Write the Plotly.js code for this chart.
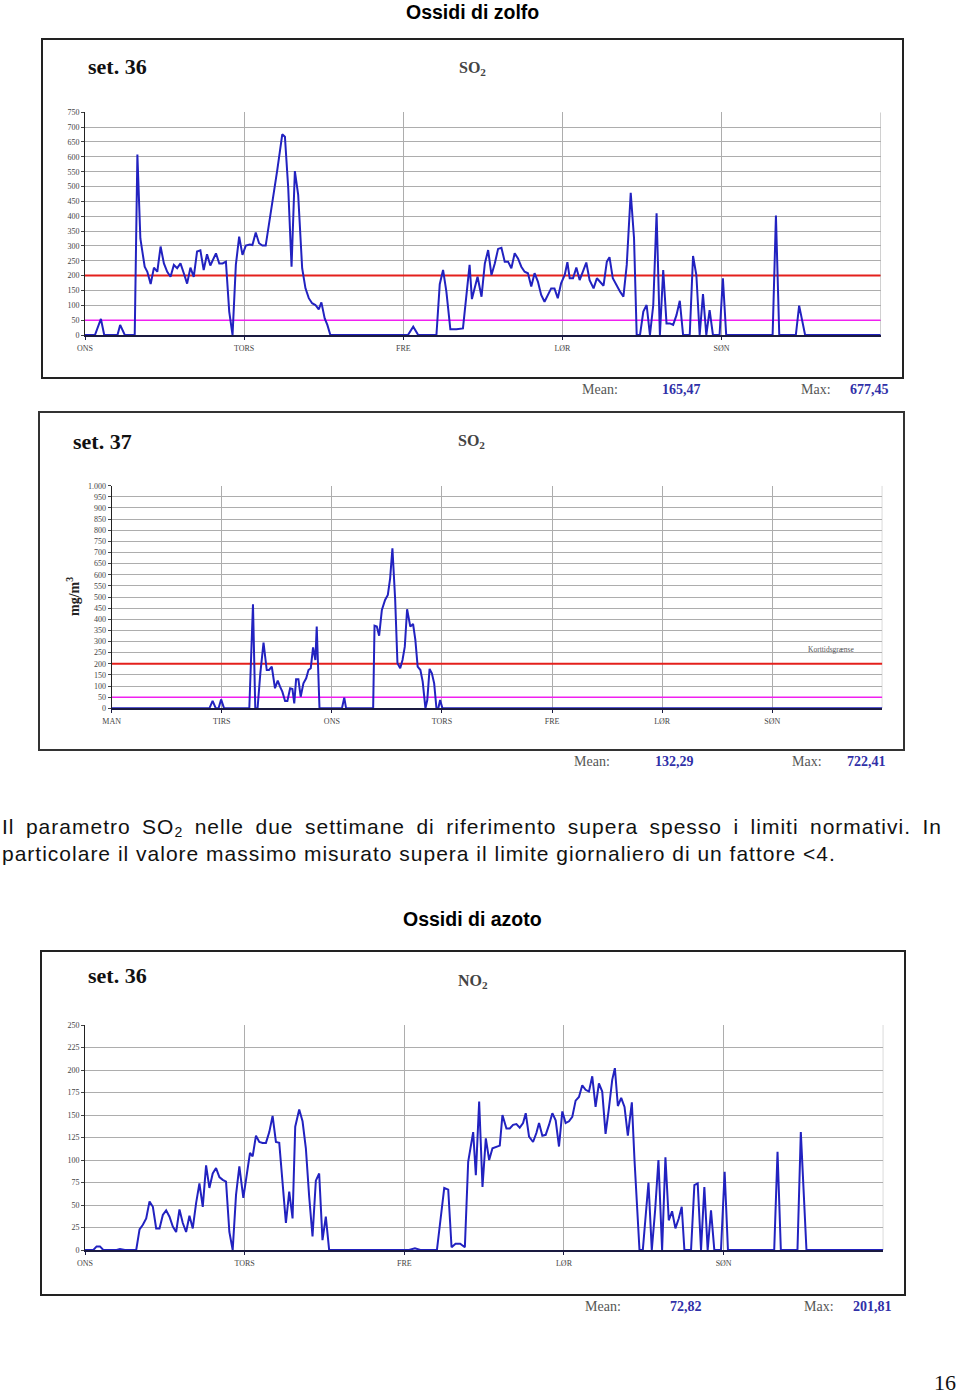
<!DOCTYPE html>
<html>
<head>
<meta charset="utf-8">
<script src="https://cdn.plot.ly/plotly-3.0.1.min.js"></script>
<style>
  html, body { margin: 0; padding: 0; background: #fff; }
  #wrap { position: relative; width: 960px; height: 1395px; }
  #chart { position: absolute; left: 0; top: 0; width: 960px; height: 1395px; }
  .pline { position: absolute; left: 2px; width: 940px; font-family: "Liberation Sans", Arial, sans-serif;
          font-size: 21px; letter-spacing: 1px; line-height: 27px; color: #111; white-space: nowrap; }
  #p1 { top: 813px; text-align: justify; text-align-last: justify; white-space: normal; }
  #p2 { top: 840px; text-align: left; }
  .pline sub { font-size: 14px; vertical-align: -3px; line-height: 0; }
  #pageno { position: absolute; left: 930px; top: 1372px; width: 30px; text-align: center;
            font-family: "Liberation Serif", "Times New Roman", serif; font-size: 22px; line-height: 22px; color: #111; }
</style>
</head>
<body>
<div id="wrap">
  <div id="chart"></div>
  <div class="pline" id="p1">Il parametro SO<sub>2</sub> nelle due settimane di riferimento supera spesso i limiti normativi. In</div>
  <div class="pline" id="p2">particolare il valore massimo misurato supera il limite giornaliero di un fattore &lt;4.</div>
  <div id="pageno">16</div>
</div>
<script>
// ---------- DATA ----------
const days1 = ['ONS', 'TORS', 'FRE', 'LØR', 'SØN'];
const days2 = ['MAN', 'TIRS', 'ONS', 'TORS', 'FRE', 'LØR', 'SØN'];

// SO2 week 36 (hours since start, µg/m3)
const so2w36Hours = [0,1.5,2.4,2.9,4.9,5.3,6.0,7.5,7.9,8.35,9.0,9.4,9.9,10.4,10.9,11.4,11.9,12.4,12.9,13.4,13.9,14.4,14.9,15.4,15.9,16.4,16.9,17.4,17.9,18.4,18.9,19.4,19.75,20.25,20.75,21.25,21.75,22.25,22.75,23.25,23.75,24.25,24.85,25.25,25.75,26.25,26.75,27.25,28.25,29.0,29.75,30.15,30.65,31.15,31.65,32.15,32.75,33.25,33.75,34.25,34.75,35.25,35.65,36.15,36.55,37.0,48.7,49.5,50.25,53.0,53.5,54.0,54.5,55.1,56.0,57.0,58.0,58.35,59.2,59.8,60.3,60.8,61.3,61.8,62.3,62.8,63.3,63.8,64.3,64.8,65.3,65.8,66.3,66.8,67.3,67.8,68.3,68.8,69.3,69.8,70.3,70.8,71.3,71.8,72.35,72.75,73.1,73.6,74.1,74.6,75.1,75.6,76.1,76.7,77.2,77.7,78.2,78.7,79.1,79.6,80.1,80.7,81.2,81.7,82.3,82.8,83.2,83.7,84.2,84.7,85.2,85.7,86.2,86.7,87.2,87.7,88.2,88.7,89.2,89.7,90.2,91.2,91.7,92.2,92.7,93.2,93.7,94.2,94.7,95.7,96.2,96.7,103.7,104.2,104.7,107.2,107.7,108.6,120];
const so2w36Values = [0,0,54,0,0,34,0,0,608,325,230,213,172,227,213,298,241,213,196,236,225,241,208,173,227,196,281,285,219,272,234,258,275,241,241,247,79,0,236,331,270,301,305,303,345,309,301,301,438,556,676,668,494,230,552,472,225,157,124,107,101,86,110,56,34,0,0,28,0,0,171,219,146,19,19,22,236,121,196,129,241,286,202,241,290,294,247,247,225,275,258,230,213,208,163,208,180,135,112,137,157,157,124,174,202,245,191,191,227,185,213,244,185,157,191,180,166,247,262,191,168,146,129,236,479,326,0,0,79,101,0,101,410,0,219,39,39,34,67,115,0,0,266,202,0,138,0,84,0,0,191,0,0,402,0,0,99,0,0];

// SO2 week 37
const so2w37Hours = [0,21.3,22.0,22.7,23.3,23.85,24.5,30.0,30.8,31.3,31.8,32.4,33.1,33.8,34.3,34.9,35.6,36.2,36.7,37.2,37.8,38.3,38.9,39.4,39.8,40.2,40.7,41.2,41.8,42.4,42.9,43.4,43.9,44.4,44.7,45.3,50.2,50.7,51.1,57.0,57.3,57.8,58.3,58.9,59.6,60.2,60.7,61.2,61.8,62.3,62.9,63.4,63.9,64.4,65.1,65.7,66.2,66.7,67.3,67.8,68.4,68.8,69.3,69.8,70.3,70.8,71.2,71.6,72.1,168];
const so2w37Values = [0,0,33,0,0,40,0,0,467,0,0,157,295,172,172,187,90,124,97,75,33,33,90,87,22,130,130,52,112,135,172,180,274,217,367,0,0,48,0,0,371,367,326,442,487,509,584,719,487,202,180,217,277,445,367,379,307,187,172,120,0,37,177,157,112,0,0,37,0,0];

// NO2 week 36
const no2w36Hours = [0,1.25,1.75,2.25,2.75,4.75,5.25,6.0,7.7,8.2,8.7,9.2,9.7,10.2,10.7,11.2,11.7,12.2,12.7,13.2,13.7,14.2,14.7,15.2,15.7,16.2,16.7,17.2,17.7,18.2,18.7,19.2,19.7,20.2,20.7,21.2,21.7,22.2,22.7,23.2,23.8,24.3,24.8,25.2,25.7,26.2,26.7,27.2,27.7,28.2,28.7,29.2,29.7,30.2,30.7,31.2,31.6,32.2,32.7,33.2,33.7,34.2,34.7,35.2,35.7,36.2,36.7,48.7,49.6,50.4,52.9,53.4,54.0,54.6,55.1,55.7,56.4,57.1,57.6,58.35,58.75,59.25,59.75,60.25,60.75,61.25,61.85,62.35,62.75,63.35,63.85,64.35,64.85,65.35,65.85,66.25,66.75,67.35,67.85,68.25,68.75,69.25,69.75,70.25,70.75,71.25,71.75,72.25,72.75,73.25,73.75,74.25,74.75,75.25,75.75,76.25,76.75,77.25,77.75,78.25,78.75,79.25,79.65,80.1,80.6,81.1,81.6,82.2,82.6,83.35,83.85,84.7,85.2,85.7,86.2,86.75,87.25,87.75,88.25,88.75,89.25,89.7,90.1,91.1,91.6,92.1,92.6,93.1,93.6,94.1,94.6,95.6,96.15,96.65,103.6,104.1,104.6,107.1,107.6,108.45,120];
const no2w36Values = [0,0,4,4,0,0,1,0,0,23,28,35,54,48,24,24,39,44,37,26,20,45,30,20,38,24,52,74,48,94,69,85,91,81,78,76,20,0,61,93,58,85,108,104,127,120,119,119,131,149,120,119,69,30,65,35,137,156,143,113,59,15,77,85,11,37,0,0,2,0,0,31,69,67,3,7,7,3,98,131,83,165,70,124,100,113,115,116,150,135,135,139,140,136,141,152,126,120,130,141,127,128,139,152,144,115,154,141,143,148,166,170,183,178,176,193,159,185,176,129,157,189,202,160,169,159,127,164,100,0,0,75,0,44,100,0,103,33,43,24,35,48,0,0,72,74,0,70,0,44,0,0,87,0,0,109,0,0,131,0,0];

const limitShort = 200;   // Korttidsgrænse
const limitDay = 50;

// ---------- LAYOUT HELPERS ----------
const W = 960, H = 1395;
const px = x => x / W;
const py = y => 1 - y / H;

const lineColor = '#2222c0';
const gridColor = '#adadad';
const tickFont = {family: 'Liberation Serif, Times New Roman, serif', size: 8, color: '#444'};

function xAxis(domain, ndays, labels) {
  const vals = [], txt = [];
  for (let i = 0; i < labels.length; i++) { vals.push(i * 24); txt.push(labels[i]); }
  return {
    domain: domain, range: [0, ndays * 24], tickvals: vals, ticktext: txt,
    showgrid: true, gridcolor: gridColor, gridwidth: 1,
    showline: true, linecolor: '#1a1a40', linewidth: 1.5,
    ticks: 'outside', ticklen: 3, tickcolor: '#1a1a40', tickfont: tickFont,
    ticklabelstandoff: 2, zeroline: false, fixedrange: true, automargin: false
  };
}
function yAxis(domain, max, step, fmt) {
  return {
    domain: domain, range: [0, max], dtick: step, tick0: 0, tickmode: 'linear',
    showgrid: true, gridcolor: gridColor, gridwidth: 1,
    showline: true, linecolor: '#222', linewidth: 1,
    ticks: 'outside', ticklen: 3, tickcolor: '#444', tickfont: tickFont,
    tickformat: fmt || 'd', zeroline: false, fixedrange: true, automargin: false
  };
}

const traces = [
  {x: so2w36Hours, y: so2w36Values, xaxis: 'x', yaxis: 'y', type: 'scatter', mode: 'lines',
   line: {color: lineColor, width: 2}, hoverinfo: 'skip'},
  {x: so2w37Hours, y: so2w37Values, xaxis: 'x2', yaxis: 'y2', type: 'scatter', mode: 'lines',
   line: {color: lineColor, width: 2}, hoverinfo: 'skip'},
  {x: no2w36Hours, y: no2w36Values, xaxis: 'x3', yaxis: 'y3', type: 'scatter', mode: 'lines',
   line: {color: lineColor, width: 2}, hoverinfo: 'skip'}
];

const serif = 'Liberation Serif, Times New Roman, serif';
const sans = 'Liberation Sans, Arial, sans-serif';

function ann(text, x, y, opts) {
  return Object.assign({text: text, x: px(x), y: py(y), xref: 'paper', yref: 'paper',
    showarrow: false, xanchor: 'left', yanchor: 'middle'}, opts || {});
}
function meanMax(y, xm, xmv, xx, xxv, mean, max) {
  const lab = {family: serif, size: 14, color: '#555'};
  const val = {family: serif, size: 14, color: '#3030a8'};
  return [
    ann('Mean:', xm, y, {font: lab}),
    ann('<b>' + mean + '</b>', xmv, y, {font: val}),
    ann('Max:', xx, y, {font: lab}),
    ann('<b>' + max + '</b>', xxv, y, {font: val})
  ];
}

const annotations = [
  ann('<b>Ossidi di zolfo</b>', 472, 12, {xanchor: 'center', font: {family: sans, size: 19.5, color: '#000'}}),
  ann('<b>set. 36</b>', 86, 67, {font: {family: serif, size: 22, color: '#111'}}),
  ann('<b>SO<sub>2</sub></b>', 472, 68, {xanchor: 'center', font: {family: serif, size: 16, color: '#444'}}),
  ...meanMax(390, 580, 660, 799, 848, '165,47', '677,45'),

  ann('<b>set. 37</b>', 71, 442, {font: {family: serif, size: 22, color: '#111'}}),
  ann('<b>SO<sub>2</sub></b>', 471, 441, {xanchor: 'center', font: {family: serif, size: 16, color: '#444'}}),
  ann('<b>mg/m<sup>3</sup></b>', 73, 597, {xanchor: 'center', textangle: -90, font: {family: serif, size: 14, color: '#222'}}),
  ann('Korttidsgrænse', 831, 649, {xanchor: 'center', font: {family: serif, size: 7.5, color: '#555'}}),
  ...meanMax(761, 572, 653, 790, 845, '132,29', '722,41'),

  ann('<b>Ossidi di azoto</b>', 472, 919, {xanchor: 'center', font: {family: sans, size: 19.5, color: '#000'}}),
  ann('<b>set. 36</b>', 86, 975, {font: {family: serif, size: 22, color: '#111'}}),
  ann('<b>NO<sub>2</sub></b>', 473, 981, {xanchor: 'center', font: {family: serif, size: 16, color: '#444'}}),
  ...meanMax(1306, 583, 668, 802, 851, '72,82', '201,81')
];

function frame(x0, y0, x1, y1, col) {
  return {type: 'rect', xref: 'paper', yref: 'paper', x0: px(x0), x1: px(x1), y0: py(y1), y1: py(y0),
          line: {color: col, width: 2}, fillcolor: 'rgba(0,0,0,0)', layer: 'below'};
}
function hline(xr, yr, xmax, yv, col, w) {
  return {type: 'line', xref: xr, yref: yr, x0: 0, x1: xmax, y0: yv, y1: yv, line: {color: col, width: w}, layer: 'between'};
}
function vline(xr, yr, xv, ymax) {
  return {type: 'line', xref: xr, yref: yr, x0: xv, x1: xv, y0: 0, y1: ymax, line: {color: gridColor, width: 1}, layer: 'between'};
}

const shapes = [
  frame(42, 39, 903, 378, '#222'),
  frame(39, 412, 904, 750, '#333'),
  frame(41, 951, 905, 1295, '#222'),
  vline('x', 'y', 120, 750),
  vline('x2', 'y2', 168, 1000),
  vline('x3', 'y3', 120, 250),
  hline('x', 'y', 120, limitShort, '#e4201c', 2),
  hline('x', 'y', 120, limitDay, '#f020f0', 1.5),
  hline('x2', 'y2', 168, limitShort, '#e4201c', 2),
  hline('x2', 'y2', 168, limitDay, '#f020f0', 1.5)
];

const layout = {
  width: W, height: H, autosize: false,
  margin: {l: 0, r: 0, t: 0, b: 0, pad: 0},
  paper_bgcolor: '#fff', plot_bgcolor: 'rgba(0,0,0,0)',
  showlegend: false, separators: ',.',
  xaxis: xAxis([px(85), px(880.7)], 5, days1),
  yaxis: yAxis([py(335), py(112.3)], 750, 50),
  xaxis2: xAxis([px(111.7), px(882.3)], 7, days2),
  yaxis2: yAxis([py(708.3), py(485.7)], 1000, 50, ',d'),
  xaxis3: xAxis([px(85), px(883.3)], 5, days1),
  yaxis3: yAxis([py(1250), py(1025)], 250, 25),
  annotations: annotations,
  shapes: shapes
};
layout.xaxis.anchor = 'y'; layout.yaxis.anchor = 'x';
layout.xaxis2.anchor = 'y2'; layout.yaxis2.anchor = 'x2';
layout.xaxis3.anchor = 'y3'; layout.yaxis3.anchor = 'x3';

Plotly.newPlot('chart', traces, layout, {staticPlot: true, displayModeBar: false});
</script>
</body>
</html>
